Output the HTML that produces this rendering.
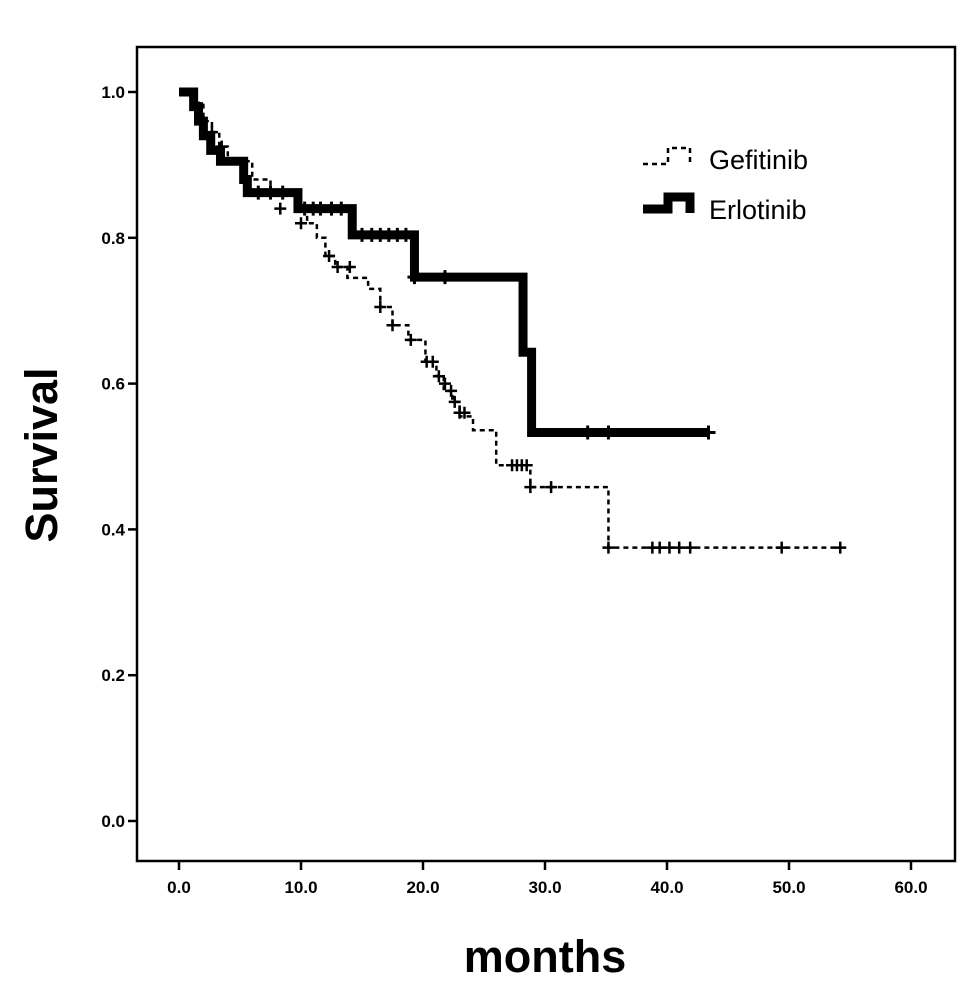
<!DOCTYPE html>
<html><head><meta charset="utf-8"><style>
html,body{margin:0;padding:0;background:#fff;}
svg{display:block;font-family:"Liberation Sans",Arial,sans-serif;}
</style></head><body>
<svg width="969" height="987" viewBox="0 0 969 987">
<g id="plot"></g>
</svg>
<script>
const xTicks=[0,10,20,30,40,50,60];
const xTickLabels=["0.0","10.0","20.0","30.0","40.0","50.0","60.0"];
const yTicks=[0,0.2,0.4,0.6,0.8,1.0];
const yTickLabels=["0.0","0.2","0.4","0.6","0.8","1.0"];
const gefTimes=[0,1.3,2.0,2.7,3.3,4.0,6.0,7.5,9.5,10.5,11.3,12.0,12.8,13.8,15.5,16.5,17.5,18.8,20.2,21.1,21.7,22.4,23.0,24.1,26.0,28.8,35.2];
const gefSurv=[1.0,0.985,0.96,0.945,0.925,0.905,0.88,0.862,0.84,0.82,0.80,0.775,0.76,0.745,0.73,0.705,0.68,0.66,0.63,0.61,0.59,0.575,0.555,0.536,0.488,0.458,0.375];
const gefEnd=54.2;
const gefCensT=[2.7,3.5,8.3,10.0,12.3,13.0,14.0,16.5,17.5,19.0,20.3,20.8,21.3,21.8,22.3,22.6,23.0,23.4,27.3,27.7,28.1,28.5,28.8,30.5,35.2,38.8,39.4,40.2,41.0,41.9,49.4,54.2];
const gefCensS=[0.945,0.925,0.84,0.82,0.775,0.76,0.76,0.705,0.68,0.66,0.63,0.63,0.61,0.60,0.59,0.575,0.56,0.56,0.488,0.488,0.488,0.488,0.458,0.458,0.375,0.375,0.375,0.375,0.375,0.375,0.375,0.375];
const erlTimes=[0,1.2,1.6,2.0,2.6,3.4,5.3,5.6,9.75,14.2,19.3,28.2,28.9];
const erlSurv=[1.0,0.98,0.96,0.94,0.92,0.905,0.88,0.862,0.84,0.804,0.746,0.643,0.533];
const erlEnd=43.4;
const erlCensT=[6.5,7.5,8.5,10.3,11.0,11.6,12.5,13.3,15.0,15.8,16.5,17.2,17.9,18.6,19.3,21.8,33.5,35.2,43.4];
const erlCensS=[0.862,0.862,0.862,0.84,0.84,0.84,0.84,0.84,0.804,0.804,0.804,0.804,0.804,0.804,0.746,0.746,0.533,0.533,0.533];

const NS="http://www.w3.org/2000/svg";
const g=document.getElementById('plot');
function X(t){return 179+t*12.2;}
function Y(s){return 821-s*729;}
function mk(tag,attrs,parent){const e=document.createElementNS(NS,tag);for(const k in attrs)e.setAttribute(k,attrs[k]);(parent||g).appendChild(e);return e;}

let frame=mk('rect',{x:137,y:47,width:818,height:814,fill:'none',stroke:'#000','stroke-width':2.5});



xTicks.forEach((v,i)=>{
  let t=mk('line',{x1:X(v),x2:X(v),y1:861,y2:870,stroke:'#000','stroke-width':2.5});
  
  
  let l=mk('text',{x:X(v),y:893,'text-anchor':'middle','font-size':17,'font-weight':'bold'});
  l.textContent=xTickLabels[i];
  
  
});
yTicks.forEach((v,i)=>{
  let t=mk('line',{x1:128,x2:137,y1:Y(v),y2:Y(v),stroke:'#000','stroke-width':2.5});
  
  
  let l=mk('text',{x:125,y:Y(v)+6,'text-anchor':'end','font-size':17,'font-weight':'bold'});
  l.textContent=yTickLabels[i];
  
  
});

function stepPath(ts,ss,end){
  let d='M'+X(ts[0])+' '+Y(ss[0]);
  for(let i=1;i<ts.length;i++){d+=' H'+X(ts[i])+' V'+Y(ss[i]);}
  d+=' H'+X(end);return d;
}
let gp=mk('path',{d:stepPath(gefTimes,gefSurv,gefEnd),fill:'none',stroke:'#000','stroke-width':2.5,'stroke-dasharray':'5 4'});


let ep=mk('path',{d:stepPath(erlTimes,erlSurv,erlEnd),fill:'none',stroke:'#000','stroke-width':9,'stroke-linejoin':'miter','stroke-linecap':'butt'});



function cross(t,s,sz,w,name){
  let p=mk('path',{d:'M'+(X(t)-sz)+' '+Y(s)+' h'+(2*sz)+' M'+X(t)+' '+(Y(s)-sz)+' v'+(2*sz),stroke:'#000','stroke-width':w,fill:'none'});
  
  
}
gefCensT.forEach((t,i)=>cross(t,gefCensS[i],6,2.5,'gefitinib-censor'));
erlCensT.forEach((t,i)=>cross(t,erlCensS[i],7,3,'erlotinib-censor'));

// legend
let lg=mk('path',{d:'M643 164 H668 V148 H690 V162',fill:'none',stroke:'#000','stroke-width':2.5,'stroke-dasharray':'5 4'});


let lt=mk('text',{x:709,y:169,'font-size':27});
lt.textContent='Gefitinib';


let le=mk('path',{d:'M643 209 H668 V197 H690 V213',fill:'none',stroke:'#000','stroke-width':9});


let lt2=mk('text',{x:709,y:219,'font-size':27});
lt2.textContent='Erlotinib';



let xt=mk('text',{x:545,y:972,'text-anchor':'middle','font-size':45,'font-weight':'bold'});
xt.textContent='months';


let yt=mk('text',{x:0,y:0,'text-anchor':'middle','font-size':45,'font-weight':'bold',transform:'translate(57,455) rotate(-90)'});
yt.textContent='Survival';


</script>
</body></html>
